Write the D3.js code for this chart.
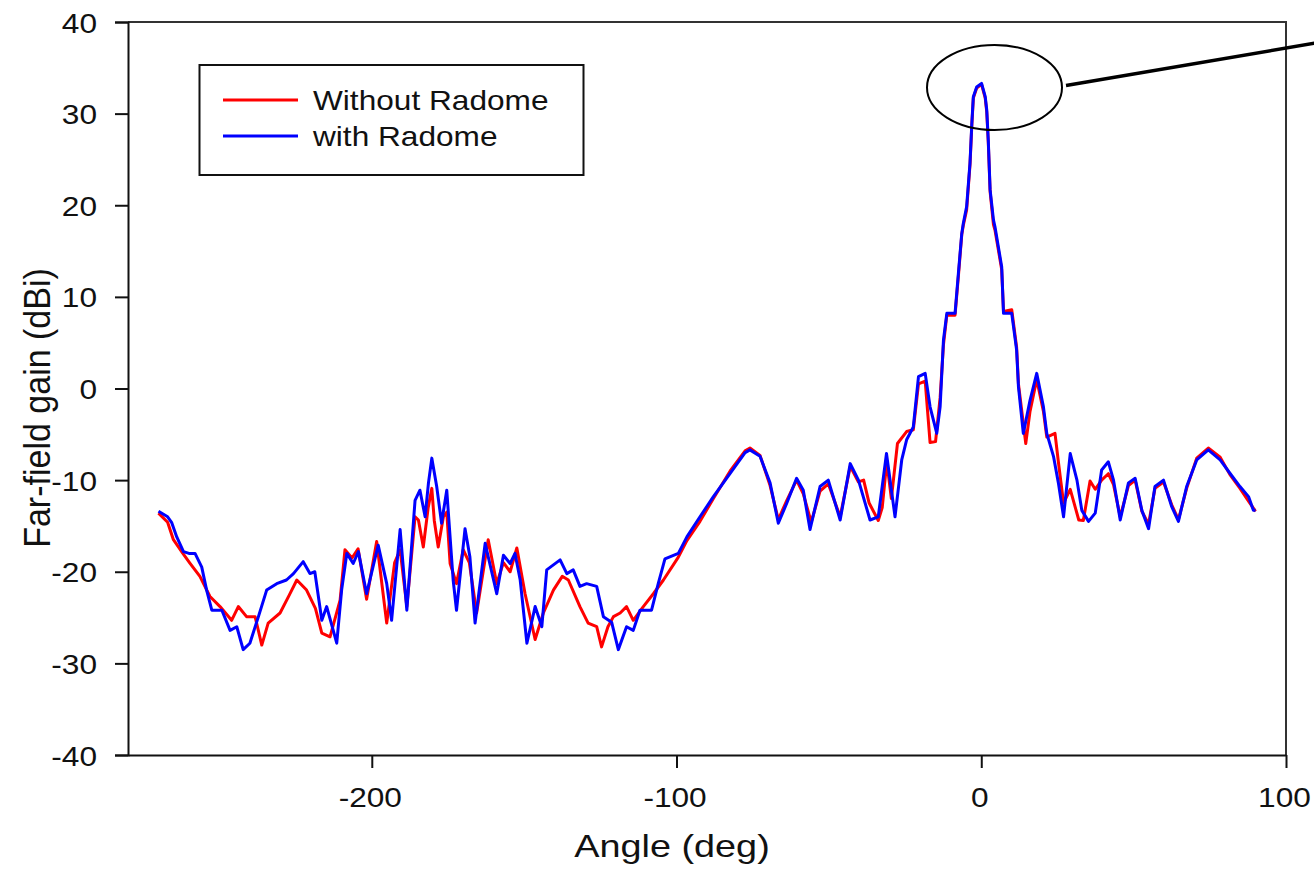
<!DOCTYPE html>
<html>
<head>
<meta charset="utf-8">
<script src="https://cdn.jsdelivr.net/npm/d3@7/dist/d3.min.js"></script>
<style>
  html, body { margin: 0; padding: 0; background: #fff; }
  svg { display: block; }
  text { font-family: "Liberation Sans", Arial, sans-serif; fill: #111; }
</style>
</head>
<body>
<svg id="chart" width="1314" height="869"></svg>
<script>
// ---------------- data ----------------
const xTicks = [-200, -100, 0, 100];
const yTicks = [-40, -30, -20, -10, 0, 10, 20, 30, 40];
const seriesNames = ["Without Radome", "with Radome"];

const redAngles = [
  -270, -267, -265.1, -262, -259.7, -256.4, -253.1, -249.8, -246, -243.8,
  -241.1, -238.3, -236.1, -234, -230.1, -227, -224.6, -221.4, -218.5, -216.4,
  -213.7, -210.4, -208.8, -206.5, -204.5, -201.7, -198.4, -195.1, -192.5, -190.7,
  -188.5, -185.8, -184.7, -183.1, -181.5, -180.3, -179.5, -178.2, -176.5, -175.4,
  -174.3, -172.2, -170, -168, -165.6, -161.8, -159, -156.8, -154.6, -152.4,
  -149.7, -146.4, -143.7, -140.4, -137.5, -135.5, -131.7, -129, -126.2, -124.6,
  -122.5, -120.7, -118.5, -116.4, -114.2, -110.9, -107.6, -104.3, -99.4, -96.6,
  -92.3, -87.9, -82.4, -77.5, -75.9, -72.6, -69.3, -66.6, -63.8, -60.6,
  -58.4, -55.8, -52.9, -50.2, -46.3, -43.0, -40.3, -38.6, -36.8, -33.8,
  -32.5, -31, -29.5, -27.5, -24.5, -22.3, -20.6, -18.4, -16.8, -15,
  -13.5, -12.4, -11.3, -8.6, -7.5, -6.4, -5.9, -4.8, -3.7, -3.1,
  -2.6, -1.5, 0.1, 1.3, 1.8, 2.3, 2.9, 4.0, 4.5, 6.7,
  7.3, 10, 11.6, 12.2, 14.6, 16, 18.2, 20.4, 21.5, 24.2,
  25.3, 27.0, 29.2, 32, 33.5, 35.7, 37.4, 39.5, 41.7, 43.4,
  45.6, 48.3, 50.5, 52.7, 54.9, 57.0, 59.8, 62.5, 64.7, 67.4,
  70.7, 74.5, 78.4, 81.6, 84.9, 87.7, 90
];
const redGain = [
  -13.6, -14.6, -16.5, -18.0, -19.05, -20.5, -22.7, -23.8, -25.3, -23.8,
  -24.9, -24.9, -28.0, -25.6, -24.5, -22.5, -20.9, -22.0, -24.0, -26.7,
  -27.1, -23.1, -17.6, -18.5, -17.5, -23.0, -16.7, -25.6, -19.0, -17.6,
  -23.8, -14.0, -14.35, -17.3, -13.0, -10.9, -14.4, -17.3, -14.0, -13.5,
  -19.1, -21.3, -17.6, -19.0, -24.5, -16.5, -21.3, -19.0, -20.0, -17.4,
  -22.4, -27.4, -24.5, -22.0, -20.5, -20.9, -23.8, -25.6, -26.0, -28.2,
  -26.0, -24.9, -24.5, -23.8, -25.3, -23.8, -22.4, -20.9, -18.4, -16.6,
  -14.5, -12.0, -9.0, -6.8, -6.5, -7.3, -10.6, -14.3, -12.2, -10.0,
  -11.5, -14.6, -11.2, -10.4, -14.0, -8.5, -10.2, -10.0, -12.5, -14.4,
  -13.0, -8.0, -12.0, -6.0, -4.7, -4.5, 0.5, 0.8, -5.9, -5.8,
  -1.0, 4.8, 8.0, 8.0, 12.3, 16.8, 17.8, 19.5, 24.4, 28.7,
  31.7, 32.8, 33.2, 31.7, 30.2, 26.9, 21.5, 17.9, 17.3, 13.0,
  8.4, 8.6, 4.5, 0.5, -6.0, -2.5, 1.0, -2.5, -5.3, -4.9,
  -8.0, -12.5, -11.0, -14.35, -14.4, -10.1, -11.0, -10.0, -9.3, -10.5,
  -14.0, -10.6, -10.0, -13.4, -14.8, -10.9, -10.2, -12.7, -14.3, -10.9,
  -7.6, -6.5, -7.5, -9.4, -10.9, -12.3, -13.4
];

const blueAngles = [
  -270, -267, -265.7, -264, -261.8, -260, -258, -255.8, -254.2, -252.5,
  -249.2, -246.5, -244.3, -242.2, -240, -237.2, -234.5, -231.2, -228, -225.7,
  -222.5, -220.3, -218.7, -216.4, -214.8, -211.5, -209.9, -208.2, -206.1, -204.4,
  -201.7, -197.9, -195.1, -193.5, -190.7, -188.5, -185.8, -184.2, -182.5, -181.4,
  -180.3, -178.7, -177.1, -175.4, -173.3, -172.2, -169.4, -167.8, -166.1, -162.8,
  -159, -156.8, -154.6, -153, -151.3, -149.1, -146.4, -144.2, -142.6, -138.2,
  -136, -133.9, -131.7, -129.5, -126.2, -124, -121.3, -119.1, -116.4, -114.2,
  -112, -108.2, -106, -103.8, -99.4, -96.6, -92.3, -87.9, -82.4, -77.5,
  -75.9, -72.6, -69.3, -66.6, -63.8, -60.6, -58.4, -56.2, -52.9, -50.2,
  -46.3, -43.0, -40.3, -36.5, -33.8, -31.1, -28.3, -26.1, -24.5, -22.3,
  -20.6, -18.4, -16.8, -14.6, -13.5, -12.4, -11.3, -8.6, -7.5, -6.4,
  -5.9, -4.8, -3.7, -3.1, -2.6, -1.5, 0.1, 1.3, 1.8, 2.3,
  2.9, 4.0, 4.5, 6.7, 7.3, 10, 11.6, 12.2, 13.8, 16,
  18.2, 20.4, 21.5, 23.7, 25.3, 27, 29.2, 31.4, 33, 35.2,
  37.4, 39.5, 41.7, 43.4, 45.6, 48.3, 50.5, 52.7, 54.9, 57.0,
  59.8, 62.5, 64.7, 67.4, 70.7, 74.5, 78.4, 81.6, 84.9, 87.7,
  89.3, 90
];
const blueGain = [
  -13.4, -14.0, -14.6, -16.2, -17.8, -18.0, -18.0, -19.5, -22.0, -24.2,
  -24.2, -26.4, -26.0, -28.5, -27.8, -24.9, -22.0, -21.3, -20.9, -20.2,
  -18.9, -20.2, -20.0, -25.3, -23.8, -27.8, -22.0, -18.0, -19.1, -17.8,
  -22.4, -17.1, -21.3, -25.3, -15.4, -24.2, -12.2, -11.1, -14.0, -10.3,
  -7.6, -10.7, -14.7, -11.1, -20.9, -24.2, -15.3, -18.4, -25.6, -16.9,
  -22.4, -18.2, -19.1, -18.0, -20.9, -27.8, -23.8, -26.0, -19.8, -18.7,
  -20.2, -19.8, -21.6, -21.3, -21.6, -24.9, -25.5, -28.5, -26.0, -26.4,
  -24.2, -24.2, -21.3, -18.6, -18.0, -16.2, -14.0, -11.8, -9.25, -7.0,
  -6.7, -7.4, -10.3, -14.7, -12.5, -9.8, -11.1, -15.4, -10.7, -10.0,
  -14.35, -8.2, -10.0, -14.35, -14.0, -7.1, -14.0, -7.8, -5.6, -4.2,
  1.3, 1.65, -2.0, -4.9, -2.0, 5.3, 8.2, 8.2, 12.6, 16.9,
  18.0, 19.85, 24.6, 28.9, 31.85, 32.9, 33.3, 31.85, 30.4, 27.1,
  21.7, 18.4, 17.65, 13.3, 8.2, 8.2, 4.2, 0.2, -4.9, -1.3,
  1.65, -2.0, -4.9, -7.4, -10.3, -14.0, -7.1, -10.0, -13.3, -14.5,
  -13.6, -8.9, -8.0, -10.0, -14.35, -10.3, -9.8, -13.3, -15.3, -10.7,
  -10.0, -12.9, -14.5, -10.7, -7.8, -6.7, -7.8, -9.25, -10.7, -11.8,
  -13.3, -13.3
];

// ---------------- layout ----------------
const svg = d3.select("#chart");
const plotL = 128, plotR = 1286, plotT = 22, plotB = 755;
const x = d3.scaleLinear().domain([-280, 100]).range([plotL, plotR]);
const y = d3.scaleLinear().domain([-40, 40]).range([plotB, plotT]);
const SX = 1.13; // horizontal stretch of the reference's text
const fmt = d => String(d); // plain hyphen-minus like the reference

// frame (top & right)
svg.append("path")
  .attr("d", `M${plotL},${plotT}H${plotR}V${plotB}`)
  .attr("fill", "none").attr("stroke", "#333").attr("stroke-width", 2);

// axes
const yAxis = svg.append("g").attr("transform", `translate(${plotL},0)`)
  .call(d3.axisLeft(y).tickValues(yTicks).tickSize(13).tickSizeOuter(13).tickFormat(fmt));
const xAxis = svg.append("g").attr("transform", `translate(0,${plotB})`)
  .call(d3.axisBottom(x).tickValues(xTicks).tickSize(13).tickSizeOuter(0).tickFormat(fmt));

[yAxis, xAxis].forEach(g => {
  g.select(".domain").attr("stroke", "#111").attr("stroke-width", 2);
  g.selectAll(".tick line").attr("stroke", "#111").attr("stroke-width", 2);
  g.selectAll(".tick text").attr("font-size", 28).attr("fill", "#111")
    .style("font-family", '"Liberation Sans", Arial, sans-serif');
});
yAxis.selectAll(".tick text")
  .attr("x", 0).attr("dy", 0)
  .attr("transform", `translate(-31,10) scale(${SX},1)`)
  .attr("text-anchor", "end");
xAxis.selectAll(".tick text")
  .attr("y", 0).attr("dy", 0)
  .attr("transform", `translate(-2,52) scale(${SX},1)`)
  .attr("text-anchor", "middle");

// axis titles
svg.append("text")
  .attr("transform", `translate(672,857) scale(1.22,1)`)
  .attr("text-anchor", "middle").attr("font-size", 31)
  .text("Angle (deg)");
svg.append("text")
  .attr("transform", `translate(50,408) rotate(-90) scale(1,1.1)`)
  .attr("text-anchor", "middle").attr("font-size", 34)
  .text("Far-field gain (dBi)");

// curves
const line = d3.line().x(d => x(d[0])).y(d => y(d[1]));
const redData = redAngles.map((a, i) => [a, redGain[i]]);
const blueData = blueAngles.map((a, i) => [a, blueGain[i]]);
svg.append("path").datum(redData).attr("d", line)
  .attr("fill", "none").attr("stroke", "#ff0000").attr("stroke-width", 3).attr("stroke-linejoin", "round");
svg.append("path").datum(blueData).attr("d", line)
  .attr("fill", "none").attr("stroke", "#0000ff").attr("stroke-width", 3).attr("stroke-linejoin", "round");

// legend
const lg = svg.append("g");
lg.append("rect").attr("x", 199.5).attr("y", 65).attr("width", 384).attr("height", 110)
  .attr("fill", "#fff").attr("stroke", "#111").attr("stroke-width", 2);
const colors = ["#ff0000", "#0000ff"];
seriesNames.forEach((name, i) => {
  const yy = 100 + i * 36;
  lg.append("line").attr("x1", 223).attr("x2", 298).attr("y1", yy).attr("y2", yy)
    .attr("stroke", colors[i]).attr("stroke-width", 3);
  lg.append("text").attr("transform", `translate(313,${yy + 10}) scale(${SX},1)`)
    .attr("font-size", 28).text(name);
});

// annotation: ellipse around peak and leader line
svg.append("ellipse").attr("cx", 994.5).attr("cy", 87.5).attr("rx", 67.5).attr("ry", 42.5)
  .attr("fill", "none").attr("stroke", "#000").attr("stroke-width", 2);
svg.append("line").attr("x1", 1066).attr("y1", 85.5).attr("x2", 1316).attr("y2", 43)
  .attr("stroke", "#000").attr("stroke-width", 3.5);
</script>
</body>
</html>
